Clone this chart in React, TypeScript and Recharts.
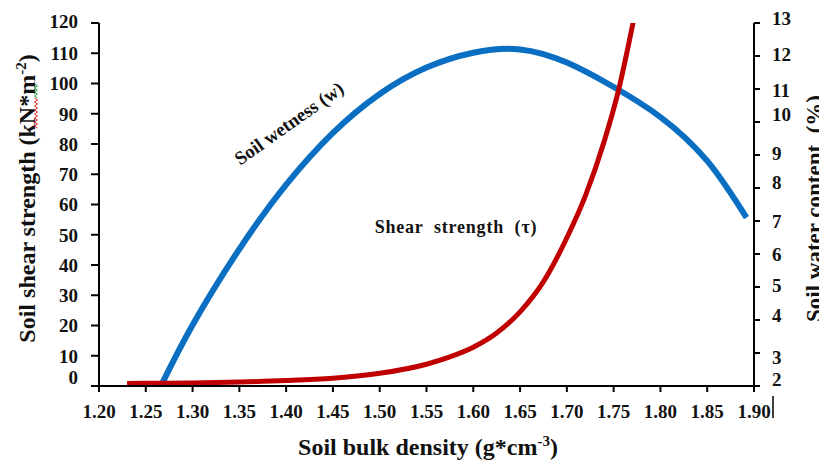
import React from 'react';
import { LineChart, Line, XAxis, YAxis, ReferenceDot, Label } from 'recharts';

// ---- data ----
const densityTicks = [1.2, 1.25, 1.3, 1.35, 1.4, 1.45, 1.5, 1.55, 1.6, 1.65, 1.7, 1.75, 1.8, 1.85, 1.9];
const shearTicks = [0, 10, 20, 30, 40, 50, 60, 70, 80, 90, 100, 110, 120];
const waterTicks = [2, 3, 4, 5, 6, 7, 8, 9, 10, 11, 12, 13];

const wetnessDensity = [1.267, 1.3, 1.35, 1.4, 1.45, 1.5, 1.55, 1.6, 1.65, 1.7, 1.75, 1.8, 1.85, 1.892];
const wetnessValues = [2.05, 3.85, 6.15, 8.1, 9.67, 10.85, 11.65, 12.1, 12.2, 11.8, 11.06, 10.15, 8.82, 7.1];

const shearDensity = [1.23, 1.25, 1.3, 1.35, 1.4, 1.45, 1.5, 1.55, 1.575, 1.6, 1.625, 1.65, 1.675, 1.7, 1.72, 1.74, 1.755, 1.771];
const shearValues = [0.85, 0.9, 1.0, 1.3, 1.8, 2.6, 4.2, 7.2, 9.6, 12.8, 17.5, 24.5, 34.5, 49, 63, 81, 97.5, 120.5];

const wetnessData = wetnessDensity.map((x, i) => ({ x, w: wetnessValues[i] }));
const shearData = shearDensity.map((x, i) => ({ x, t: shearValues[i] }));

// ---- styling ----
const FONT = '"Liberation Serif", "Times New Roman", Times, serif';
const TXT = '#111';

const leftOffsets: Record<number, number> = { 120: -1.5, 0: -9 };
const rightOffsets: Record<number, number> = { 13: -4.5, 12: -1.7, 11: 0.7, 10: -8, 9: -2, 8: -5.5, 5: -2, 4: -4.5, 3: 4, 2: -7 };

const XTick = (props: any) => {
  const { x, y, payload } = props;
  const v = payload.value as number;
  return (
    <g>
      <text x={x} y={y} dy="0.71em" textAnchor="middle" fontFamily={FONT} fontWeight="bold" fontSize={19} fill={TXT}>
        {v.toFixed(2)}
      </text>
      {Math.abs(v - 1.9) < 1e-9 && (
        <line x1={x + 19} x2={x + 19} y1={y - 9} y2={y + 13} stroke="#000" strokeWidth={1.5} />
      )}
    </g>
  );
};

const LeftTick = (props: any) => {
  const { x, y, payload } = props;
  const v = payload.value as number;
  return (
    <text x={x} y={y + (leftOffsets[v] || 0)} dy="0.36em" textAnchor="end" fontFamily={FONT} fontWeight="bold" fontSize={19} fill={TXT}>
      {v}
    </text>
  );
};

const RightTick = (props: any) => {
  const { x, y, payload } = props;
  const v = payload.value as number;
  return (
    <text x={x} y={y + (rightOffsets[v] || 0)} dy="0.36em" textAnchor="start" fontFamily={FONT} fontWeight="bold" fontSize={19} fill={TXT}>
      {v}
    </text>
  );
};

const LeftTitle = (props: any) => {
  const vb = props.viewBox || { x: 0, y: 15, width: 91, height: 363 };
  const cx = vb.x + 27;
  const cy = vb.y + vb.height / 2 - 6;
  // spell-check squiggle (decoration seen in the original image)
  const squiggle = (y0: number, y1: number) => {
    let d = '';
    let k = 0;
    for (let yy = y0; yy <= y1; yy += 2) {
      const xx = cx + (k % 2 === 0 ? -0.5 : 2.5);
      d += (k === 0 ? 'M' : 'L') + xx + ' ' + yy + ' ';
      k++;
    }
    return d;
  };
  return (
    <g>
      <text
        x={cx}
        y={cy}
        transform={`rotate(-90, ${cx}, ${cy})`}
        textAnchor="middle"
        fontFamily={FONT}
        fontWeight="bold"
        fontSize={24}
        fill={TXT}
      >
        Soil shear strength (kN*m
        <tspan dy={-9} fontSize={15}>-2</tspan>
        <tspan dy={9}>)</tspan>
      </text>
      <path d={squiggle(76, 90)} fill="none" stroke="#2e9e2e" strokeWidth={1} />
      <path d={squiggle(90, 120)} fill="none" stroke="#e02020" strokeWidth={1} />
    </g>
  );
};

const RightTitle = (props: any) => {
  const vb = props.viewBox || { x: 746, y: 15, width: 73, height: 363 };
  const cx = vb.x + 68;
  const cy = vb.y + vb.height / 2 + 4;
  return (
    <text
      x={cx}
      y={cy}
      transform={`rotate(-90, ${cx}, ${cy})`}
      textAnchor="middle"
      fontFamily={FONT}
      fontWeight="bold"
      fontSize={23}
      fill={TXT}
      style={{ whiteSpace: 'pre' }}
    >
      {'Soil water content  (%)'}
    </text>
  );
};

const BottomTitle = (props: any) => {
  const vb = props.viewBox || { x: 91, y: 378, width: 655, height: 75 };
  const cx = 420;
  const cy = vb.y + 69;
  return (
    <text x={cx} y={cy} textAnchor="middle" fontFamily={FONT} fontWeight="bold" fontSize={24} fill={TXT}>
      Soil bulk density (g*cm
      <tspan dy={-9} fontSize={15}>-3</tspan>
      <tspan dy={9}>)</tspan>
    </text>
  );
};

const WetnessLabel = (props: any) => {
  const vb = props.viewBox;
  const cx = vb.x + (vb.width || 0) / 2;
  const cy = vb.y + (vb.height || 0) / 2;
  return (
    <text
      x={cx}
      y={cy}
      transform={`rotate(-35.3, ${cx}, ${cy})`}
      textAnchor="middle"
      fontFamily={FONT}
      fontWeight="bold"
      fontSize={19}
      fill={TXT}
    >
      Soil wetness (w)
    </text>
  );
};

const ShearLabel = (props: any) => {
  const vb = props.viewBox;
  const cx = vb.x + (vb.width || 0) / 2;
  const cy = vb.y + (vb.height || 0) / 2;
  return (
    <text
      x={cx}
      y={cy}
      textAnchor="middle"
      fontFamily={FONT}
      fontWeight="bold"
      fontSize={18}
      letterSpacing={0.8}
      fill={TXT}
      style={{ whiteSpace: 'pre' }}
    >
      {'Shear  strength  (τ)'}
    </text>
  );
};

const axisStroke = { stroke: '#000', strokeWidth: 2 };

export default function App() {
  return (
    <div style={{ width: 819, height: 453 }}>
      <LineChart width={819} height={453} margin={{ top: 15, right: 0, bottom: 0, left: 0 }}>
        <XAxis
          type="number"
          dataKey="x"
          domain={[1.2, 1.9]}
          ticks={densityTicks}
          allowDataOverflow
          height={75}
          tickSize={6}
          tickMargin={13}
          axisLine={axisStroke}
          tickLine={axisStroke}
          tick={<XTick />}
          interval={0}
        >
          <Label content={(p: any) => <BottomTitle {...p} />} />
        </XAxis>
        <YAxis
          yAxisId="left"
          type="number"
          domain={[0, 120]}
          ticks={shearTicks}
          allowDataOverflow
          width={91}
          tickSize={8}
          tickMargin={13}
          axisLine={axisStroke}
          tickLine={axisStroke}
          tick={<LeftTick />}
          interval={0}
        >
          <Label content={(p: any) => <LeftTitle {...p} />} />
        </YAxis>
        <YAxis
          yAxisId="right"
          orientation="right"
          type="number"
          domain={[2, 13]}
          ticks={waterTicks}
          allowDataOverflow
          width={73}
          tickSize={6}
          tickMargin={12}
          axisLine={axisStroke}
          tickLine={axisStroke}
          tick={<RightTick />}
          interval={0}
        >
          <Label content={(p: any) => <RightTitle {...p} />} />
        </YAxis>
        <Line
          yAxisId="right"
          data={wetnessData}
          dataKey="w"
          type="natural"
          stroke="#0a6fc2"
          strokeWidth={6}
          dot={false}
          activeDot={false}
          isAnimationActive={false}
        />
        <Line
          yAxisId="left"
          data={shearData}
          dataKey="t"
          type="monotone"
          stroke="#c00000"
          strokeWidth={5}
          dot={false}
          activeDot={false}
          isAnimationActive={false}
        />
        <ReferenceDot
          yAxisId="right"
          x={1.407}
          y={9.8}
          r={1}
          fill="none"
          stroke="none"
          label={(p: any) => <WetnessLabel {...p} />}
        />
        <ReferenceDot
          yAxisId="left"
          x={1.5815}
          y={50.5}
          r={1}
          fill="none"
          stroke="none"
          label={(p: any) => <ShearLabel {...p} />}
        />
      </LineChart>
    </div>
  );
}
